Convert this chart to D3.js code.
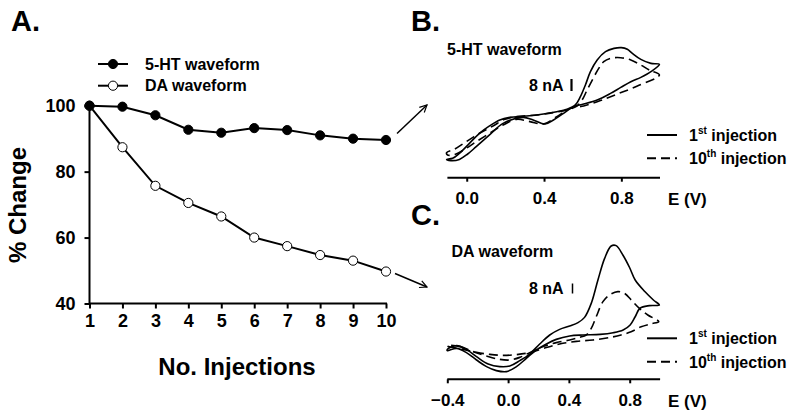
<!DOCTYPE html>
<html>
<head>
<meta charset="utf-8">
<script src="https://cdn.jsdelivr.net/npm/d3@7"></script>
<style>
  body { margin: 0; background: #fff; }
  svg { display: block; }
  text { font-family: "Liberation Sans", Arial, Helvetica, sans-serif; font-weight: bold; fill: #000; }
</style>
</head>
<body>
<svg id="chart" width="800" height="417"></svg>
<script>
// ---------- Data ----------
const injections = [1, 2, 3, 4, 5, 6, 7, 8, 9, 10];
const ht5Change = [100, 99.7, 97.1, 92.7, 91.8, 93.2, 92.6, 91.0, 90.0, 89.6];
const daChange  = [100, 87.4, 75.7, 70.5, 66.4, 60.0, 57.4, 54.7, 53.0, 49.7];
const pctTicks = [40, 60, 80, 100];
const seriesNames = ["5-HT waveform", "DA waveform"];

// cyclic voltammograms: [E (V), current (nA, relative)]
const cvB_1st = [
  [0.997,43.8],[0.953,44.4],[0.901,47.1],[0.857,51.1],[0.831,53.8],[0.800,54.9],[0.762,54.4],
  [0.718,52.2],[0.675,46.7],[0.640,38.9],[0.614,30.0],[0.588,22.2],[0.562,16.7],[0.518,13.8],
  [0.466,12.2],[0.397,10.7],[0.310,9.3],[0.223,8.4],[0.171,6.7],[0.118,2.7],[0.066,-2.2],
  [0.014,-8.9],[-0.038,-15.6],[-0.073,-18.9],[-0.104,-19.6],[-0.082,-20.4],[-0.038,-19.6],
  [0.005,-16.0],[0.049,-11.1],[0.118,-3.3],[0.188,4.4],[0.292,8.4],[0.344,6.7],[0.405,4.0],
  [0.449,6.7],[0.501,11.1],[0.553,15.6],[0.605,17.3],[0.675,20.0],[0.744,24.4],[0.797,28.4],
  [0.849,32.2],[0.901,35.1],[0.953,38.9]
];
const cvB_10th = [
  [0.997,36.7],[0.944,40.0],[0.901,43.3],[0.849,46.7],[0.797,48.2],[0.744,47.8],[0.709,45.6],
  [0.683,41.1],[0.654,34.4],[0.623,26.7],[0.597,20.0],[0.570,16.0],[0.518,13.3],[0.449,11.6],
  [0.362,10.0],[0.258,8.9],[0.197,7.1],[0.136,2.7],[0.066,-2.2],[-0.003,-7.8],[-0.064,-12.9],
  [-0.104,-15.1],[-0.099,-16.7],[-0.055,-16.0],[-0.003,-12.2],[0.049,-7.8],[0.118,-2.2],
  [0.188,3.3],[0.258,7.1],[0.327,5.6],[0.397,4.0],[0.466,8.9],[0.536,14.4],[0.605,16.0],
  [0.692,19.6],[0.779,24.0],[0.883,29.3]
];
const cvC_1st = [
  [-0.400,-7.5],[-0.339,-4.5],[-0.274,-7.5],[-0.208,-13.3],[-0.131,-19.2],[-0.055,-21.3],
  [0.011,-20.8],[0.077,-16.5],[0.142,-11.2],[0.208,-3.2],[0.274,4.0],[0.339,8.5],[0.405,11.2],
  [0.460,13.9],[0.503,18.1],[0.547,29.3],[0.591,48.0],[0.635,65.3],[0.678,75.2],[0.711,75.5],
  [0.755,68.0],[0.799,58.0],[0.836,48.0],[0.901,38.6],[0.956,32.0],[0.995,28.0],
  [0.930,27.5],[0.868,25.4],[0.836,18.6],[0.803,12.0],[0.757,8.0],[0.691,5.8],[0.605,4.5],
  [0.492,4.0],[0.405,3.2],[0.317,0.5],[0.252,-3.2],[0.186,-8.0],[0.120,-14.7],
  [0.055,-21.3],[-0.011,-25.3],[-0.077,-24.5],[-0.142,-21.3],[-0.208,-16.0],[-0.274,-10.1],
  [-0.339,-6.7],[-0.400,-8.5]
];
const cvC_10th = [
  [-0.400,-4.3],[-0.317,-5.3],[-0.230,-9.3],[-0.142,-12.8],[-0.055,-15.5],[0.011,-16.0],
  [0.077,-13.9],[0.142,-10.1],[0.230,-5.3],[0.317,-2.1],[0.405,0.0],[0.470,2.1],[0.514,4.0],
  [0.547,9.3],[0.580,18.7],[0.624,30.7],[0.667,36.0],[0.722,38.7],[0.766,37.3],[0.810,32.0],
  [0.864,25.3],[0.919,20.0],[0.991,14.7],
  [0.941,13.0],[0.875,10.6],[0.809,6.6],[0.743,4.0],[0.677,2.2],[0.558,0.0],[0.449,-1.1],
  [0.339,-3.2],[0.230,-6.9],[0.142,-10.1],[0.055,-11.7],[-0.033,-12.3],[-0.120,-11.5],
  [-0.208,-9.9],[-0.295,-7.5],[-0.400,-4.8]
];
const eTicksB = [0.0, 0.4, 0.8];
const eTicksC = [-0.4, 0.0, 0.4, 0.8];
const scaleBarNA = 8;
const cvLegend = ["1st injection", "10th injection"];

// ---------- Drawing ----------
const svg = d3.select("#chart");
const FONT = '"Liberation Sans", Arial, Helvetica, sans-serif';

// arrow marker
const defs = svg.append("defs");
defs.append("marker").attr("id", "arr").attr("viewBox", "0 0 10 10")
  .attr("refX", 9).attr("refY", 5).attr("markerWidth", 9).attr("markerHeight", 9)
  .attr("markerUnits", "userSpaceOnUse").attr("orient", "auto")
  .append("path").attr("d", "M1,1 L9,5 L1,9").attr("fill", "none")
  .attr("stroke", "#000").attr("stroke-width", 1.3);

// ===== Panel A =====
const xA = d3.scaleLinear().domain([1, 10]).range([89.5, 386]);
const yA = d3.scaleLinear().domain([40, 100]).range([303.5, 105.7]);

svg.append("text").attr("x", 11).attr("y", 31).attr("font-size", 29).text("A.");

const gxA = svg.append("g").attr("transform", "translate(0,303.5)")
  .call(d3.axisBottom(xA).tickValues(injections).tickSize(5).tickPadding(6).tickFormat(d3.format("d")));
const gyA = svg.append("g").attr("transform", "translate(89.5,0)")
  .call(d3.axisLeft(yA).tickValues(pctTicks).tickSize(5).tickPadding(9));
[gxA, gyA].forEach(g => {
  g.select(".domain").attr("stroke-width", 2).attr("d", null);
  g.selectAll(".tick line").attr("stroke-width", 2);
  g.selectAll("text").attr("font-size", 18).attr("font-family", FONT).attr("font-weight", "bold");
});
gxA.select(".domain").attr("d", `M${xA(1)},0H${xA(10) + 1}`);
gyA.select(".domain").attr("d", `M0,${yA(100)}V${yA(40) + 1}`);

svg.append("text").attr("transform", "translate(26,205) rotate(-90)")
  .attr("text-anchor", "middle").attr("font-size", 24).text("% Change");
svg.append("text").attr("x", 237).attr("y", 375)
  .attr("text-anchor", "middle").attr("font-size", 24).text("No. Injections");

const lineA = d3.line().x((d, i) => xA(injections[i])).y(d => yA(d));
[ht5Change, daChange].forEach(vals => {
  svg.append("path").datum(vals).attr("d", lineA).attr("fill", "none")
    .attr("stroke", "#000").attr("stroke-width", 2);
});
[[daChange, "#fff"], [ht5Change, "#000"]].forEach(([vals, fill]) => {
  svg.append("g").selectAll("circle").data(vals).join("circle")
    .attr("cx", (d, i) => xA(injections[i])).attr("cy", d => yA(d))
    .attr("r", 4.6).attr("fill", fill).attr("stroke", "#000").attr("stroke-width", 1);
});

// legend A
const legA = [[seriesNames[0], "#000", 64], [seriesNames[1], "#fff", 85.7]];
legA.forEach(([name, fill, y]) => {
  svg.append("line").attr("x1", 98).attr("x2", 128).attr("y1", y).attr("y2", y)
    .attr("stroke", "#000").attr("stroke-width", 2);
  svg.append("circle").attr("cx", 113).attr("cy", y).attr("r", 4.6)
    .attr("fill", fill).attr("stroke", "#000").attr("stroke-width", 1);
  svg.append("text").attr("x", 145).attr("y", y + 5.6).attr("font-size", 16).text(name);
});

// arrows
svg.append("line").attr("x1", 397).attr("y1", 133.5).attr("x2", 427).attr("y2", 105)
  .attr("stroke", "#000").attr("stroke-width", 1.5).attr("marker-end", "url(#arr)");
svg.append("line").attr("x1", 395).attr("y1", 273.5).attr("x2", 427).attr("y2", 287)
  .attr("stroke", "#000").attr("stroke-width", 1.5).attr("marker-end", "url(#arr)");

// ===== CV panels =====
function cvPanel(o) {
  const x = d3.scaleLinear().domain(o.eDomain).range(o.xRange);
  const y = d3.scaleLinear().domain(o.iDomain).range(o.yRange);
  svg.append("text").attr("x", 411).attr("y", o.letterY).attr("font-size", 29).text(o.letter);
  svg.append("text").attr("x", o.titleX).attr("y", o.titleY).attr("font-size", 16).text(o.title);

  const g = svg.append("g").attr("transform", `translate(0,${o.axisY})`)
    .call(d3.axisBottom(x).tickValues(o.ticks).tickSize(o.tickLen).tickPadding(10)
      .tickFormat(d3.format(".1f")));
  g.select(".domain").attr("d", `M${o.xRange[0]},0H${o.xRange[1]}`).attr("stroke-width", 2);
  g.selectAll(".tick line").attr("stroke-width", 2);
  g.selectAll("text").attr("font-size", 17).attr("font-family", FONT).attr("font-weight", "bold")
    .attr("dy", null).attr("y", o.labelDy);
  svg.append("text").attr("x", 668).attr("y", o.axisY + o.labelDy + 1).attr("font-size", 17).text("E (V)");

  const line = d3.line().x(d => x(d[0])).y(d => y(d[1])).curve(d3.curveCatmullRomClosed.alpha(0.5));
  svg.append("path").datum(o.first).attr("d", line).attr("fill", "none")
    .attr("stroke", "#000").attr("stroke-width", 1.6);
  svg.append("path").datum(o.tenth).attr("d", line).attr("fill", "none")
    .attr("stroke", "#000").attr("stroke-width", 1.6).attr("stroke-dasharray", "9,5");

  // scale bar
  svg.append("text").attr("x", 529).attr("y", o.barBase).attr("font-size", 16).text("8 nA");
  svg.append("line").attr("x1", o.barX).attr("x2", o.barX)
    .attr("y1", o.barBase).attr("y2", o.barBase - (y(0) - y(scaleBarNA)))
    .attr("stroke", "#000").attr("stroke-width", o.barW);

  // legend
  o.legY.forEach((ly, i) => {
    svg.append("line").attr("x1", 647).attr("x2", 677).attr("y1", ly).attr("y2", ly)
      .attr("stroke", "#000").attr("stroke-width", 2)
      .attr("stroke-dasharray", i === 0 ? null : "9,5");
    const t = svg.append("text").attr("x", 689).attr("y", ly + 6).attr("font-size", 16);
    const parts = cvLegend[i].match(/^(\d+)(st|th)( .*)$/);
    t.append("tspan").text(parts[1]);
    t.append("tspan").attr("font-size", 10).attr("dy", -7).text(parts[2]);
    t.append("tspan").attr("dy", 7).text(parts[3]);
  });
}

cvPanel({
  letter: "B.", letterY: 31, title: "5-HT waveform", titleX: 447, titleY: 54.5,
  eDomain: [-0.1, 1.0], xRange: [447.4, 660], iDomain: [-20, 40], yRange: [160, 70],
  ticks: eTicksB, axisY: 177.7, tickLen: 4, labelDy: 26,
  first: cvB_1st, tenth: cvB_10th, barX: 571.5, barBase: 91, barW: 2.2,
  legY: [135, 158.3]
});
cvPanel({
  letter: "C.", letterY: 225, title: "DA waveform", titleX: 451.5, titleY: 256.5,
  eDomain: [-0.4, 1.0], xRange: [447.3, 660.1], iDomain: [-24, 72], yRange: [370, 250],
  ticks: eTicksC, axisY: 379.3, tickLen: 4, labelDy: 27,
  first: cvC_1st, tenth: cvC_10th, barX: 572.5, barBase: 293.5, barW: 1.5,
  legY: [338.3, 361.7]
});
</script>
</body>
</html>
